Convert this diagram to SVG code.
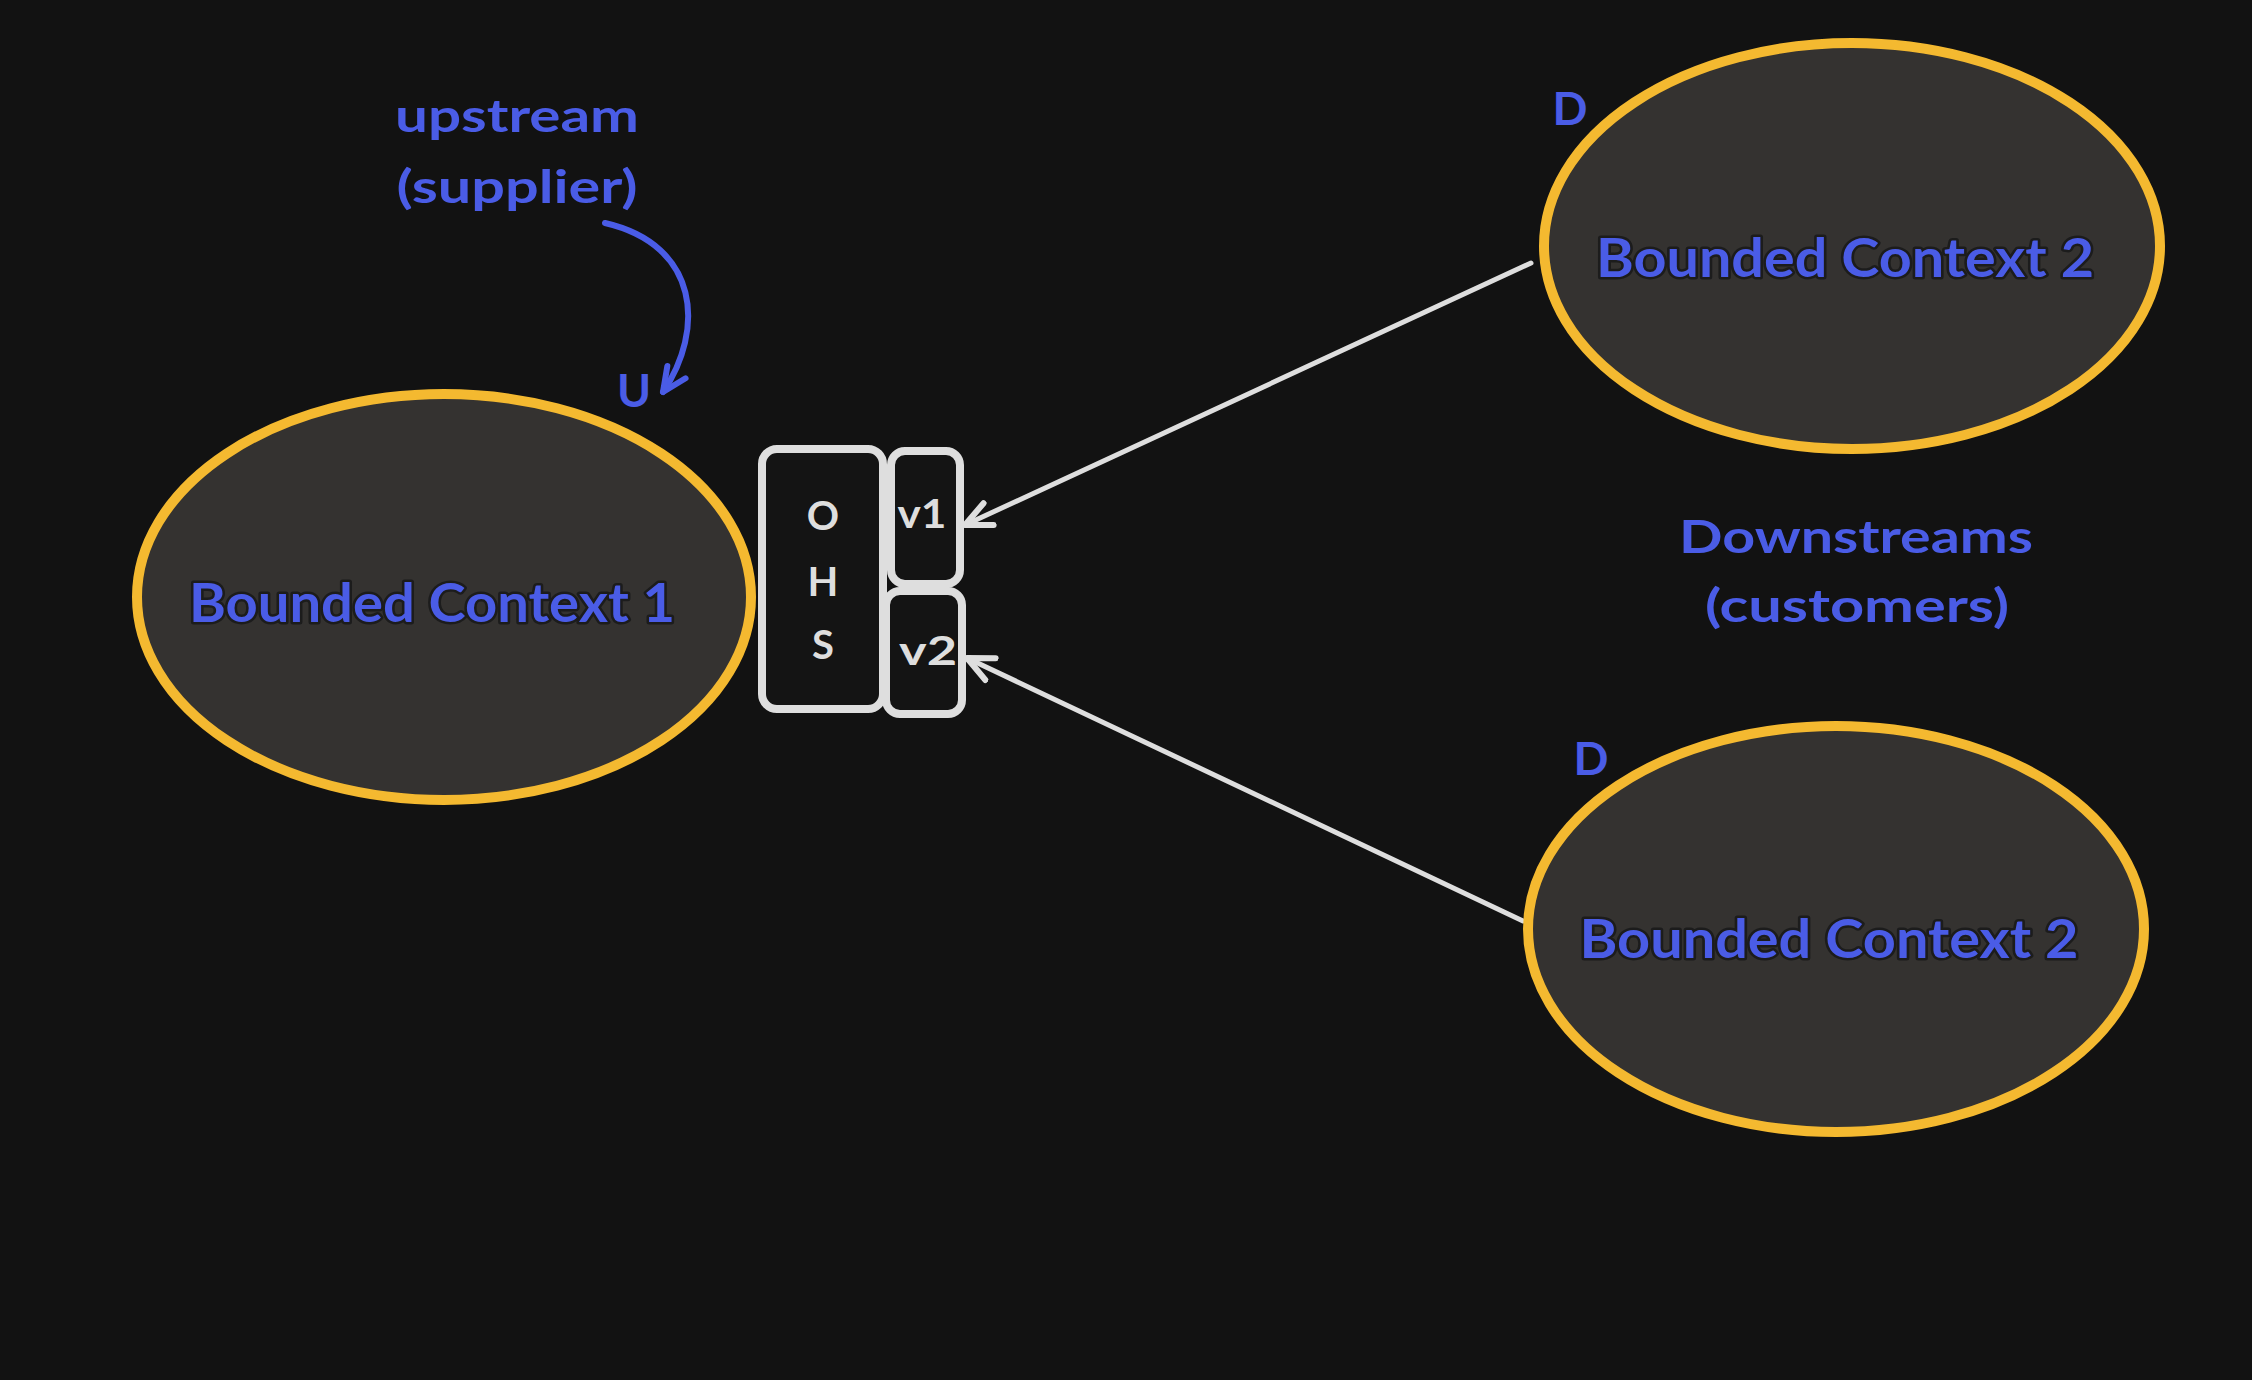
<svg xmlns="http://www.w3.org/2000/svg" width="2252" height="1380" viewBox="0 0 2252 1380">
<style>
  .bc { fill: #343230; stroke: #f4b930; stroke-width: 10; }
  .bctext { font-family: Lato, "Noto Sans", sans-serif; font-weight: 700; font-size: 54px; fill: #4a5ce6; stroke: #1c1c1c; stroke-width: 5; paint-order: stroke; stroke-linejoin: round; text-anchor: middle; }
  .label { font-family: Lato, "Noto Sans", sans-serif; font-weight: 700; font-size: 46px; fill: #4a5ce6; text-anchor: middle; }
  .box { fill: #141414; stroke: #dedede; stroke-width: 8; }
  .boxtext { font-family: Lato, "Noto Sans", sans-serif; font-weight: 700; font-size: 40px; fill: #dedede; text-anchor: middle; }
  .conn { fill: none; stroke: #dedede; stroke-width: 5; stroke-linecap: round; }
  .blue { fill: none; stroke: #4a5ce6; stroke-width: 6; stroke-linecap: round; }
</style>
<defs>
  <marker id="arrowGray" viewBox="0 0 32 32" refX="29" refY="16" markerWidth="32" markerHeight="32" markerUnits="userSpaceOnUse" orient="auto">
    <path d="M3,4 L29,16 L3,28" fill="none" stroke="#dedede" stroke-width="6" stroke-linecap="round" stroke-linejoin="round"/>
  </marker>
  <marker id="arrowBlue" viewBox="0 0 32 32" refX="29" refY="16" markerWidth="32" markerHeight="32" markerUnits="userSpaceOnUse" orient="auto">
    <path d="M5,5 L29,16 L5,27" fill="none" stroke="#4a5ce6" stroke-width="6" stroke-linecap="round" stroke-linejoin="round"/>
  </marker>
</defs>
<rect x="0" y="0" width="2252" height="1380" fill="#121212"/>

<g id="connectors">
  <path class="conn" d="M1531,263 L965,525" marker-end="url(#arrowGray)"/>
  <path class="conn" d="M1523,921 L967,658" marker-end="url(#arrowGray)"/>
  <path class="blue" d="M605,223 C700,245 705,330 663,392" marker-end="url(#arrowBlue)"/>
</g>

<g id="bc1">
  <ellipse class="bc" cx="444" cy="597" rx="307" ry="203"/>
  <text class="bctext" x="432" y="622" textLength="486" lengthAdjust="spacingAndGlyphs">Bounded Context 1</text>
</g>

<g id="bc2-top">
  <ellipse class="bc" cx="1852" cy="246" rx="308" ry="203"/>
  <text class="bctext" x="1845" y="277" textLength="498" lengthAdjust="spacingAndGlyphs">Bounded Context 2</text>
</g>

<g id="bc2-bottom">
  <ellipse class="bc" cx="1836" cy="929" rx="308" ry="203"/>
  <text class="bctext" x="1829" y="958" textLength="499" lengthAdjust="spacingAndGlyphs">Bounded Context 2</text>
</g>

<g id="ohs">
  <rect class="box" x="762" y="449" width="121" height="260" rx="15"/>
  <text class="boxtext" x="823" y="530">O</text>
  <text class="boxtext" x="823" y="596">H</text>
  <text class="boxtext" x="823" y="659">S</text>
</g>

<g id="v1">
  <rect class="box" x="891" y="451" width="69" height="133" rx="14"/>
  <text class="boxtext" x="922" y="528" font-size="46" textLength="49" lengthAdjust="spacingAndGlyphs">v1</text>
</g>

<g id="v2">
  <rect class="box" x="886" y="591" width="76" height="123" rx="14"/>
  <text class="boxtext" x="928" y="665" font-size="46" textLength="58" lengthAdjust="spacingAndGlyphs">v2</text>
</g>

<g id="upstream-label">
  <text class="label" x="517" y="132" textLength="244" lengthAdjust="spacingAndGlyphs">upstream</text>
  <text class="label" x="517" y="203" textLength="241" lengthAdjust="spacingAndGlyphs">(supplier)</text>
</g>

<g id="downstream-label">
  <text class="label" x="1856" y="553" textLength="354" lengthAdjust="spacingAndGlyphs">Downstreams</text>
  <text class="label" x="1857" y="622" textLength="304" lengthAdjust="spacingAndGlyphs">(customers)</text>
</g>

<g id="marker-u"><text class="label" x="634" y="407">U</text></g>
<g id="marker-d1"><text class="label" x="1570" y="125">D</text></g>
<g id="marker-d2"><text class="label" x="1591" y="775">D</text></g>
</svg>
